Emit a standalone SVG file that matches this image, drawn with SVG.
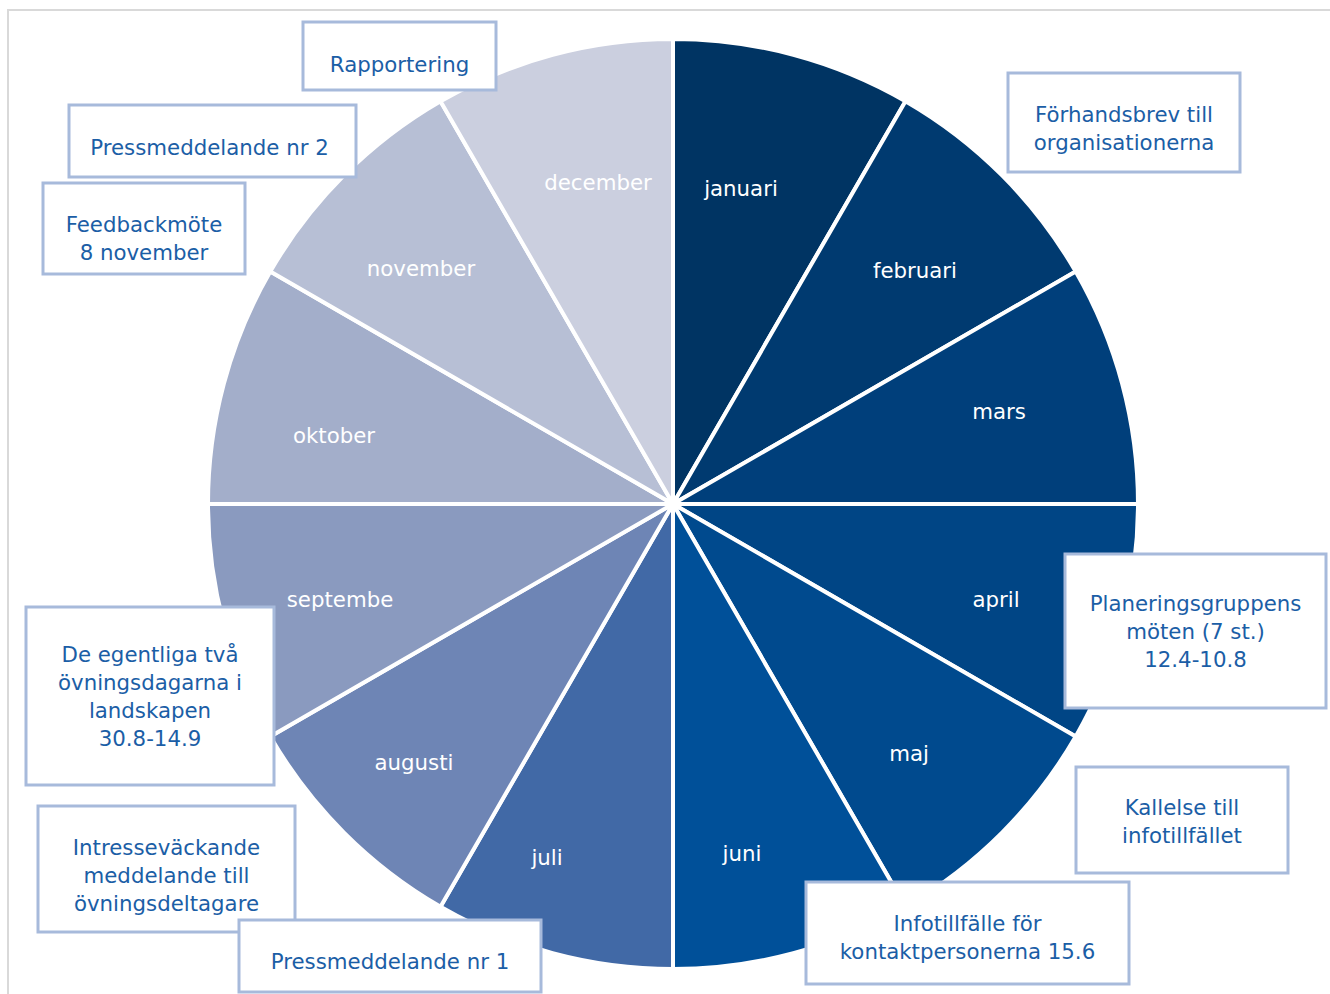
<svg xmlns="http://www.w3.org/2000/svg" width="1330" height="994" viewBox="0 0 1330 994">
<style>
.w{stroke:#fff;stroke-width:4;stroke-linejoin:round}
.m{font-family:"DejaVu Sans",Verdana,sans-serif;font-size:21.3px;fill:#fff;text-anchor:middle}
.b rect{fill:#fff;stroke:#A7BADB;stroke-width:3}
.b text{font-family:"DejaVu Sans",Verdana,sans-serif;font-size:21.3px;fill:#1B5EA6;text-anchor:middle}
</style>
<rect x="0" y="0" width="1330" height="994" fill="#fff"/>
<rect x="8" y="10" width="1340" height="1000" fill="none" stroke="#D9D9D9" stroke-width="2"/>
<g id="pie">
<g id="januari"><path class="w" fill="#003463" d="M673 504 L673 39 A465 465 0 0 1 905.5 101.3 Z"/><text class="m" x="741" y="196">januari</text></g>
<g id="februari"><path class="w" fill="#003A70" d="M673 504 L905.5 101.3 A465 465 0 0 1 1075.7 271.5 Z"/><text class="m" x="915" y="278">februari</text></g>
<g id="mars"><path class="w" fill="#003F7B" d="M673 504 L1075.7 271.5 A465 465 0 0 1 1138 504 Z"/><text class="m" x="999" y="419">mars</text></g>
<g id="april"><path class="w" fill="#004585" d="M673 504 L1138 504 A465 465 0 0 1 1075.7 736.5 Z"/><text class="m" x="996" y="607">april</text></g>
<g id="maj"><path class="w" fill="#004A8E" d="M673 504 L1075.7 736.5 A465 465 0 0 1 905.5 906.7 Z"/><text class="m" x="909" y="761">maj</text></g>
<g id="juni"><path class="w" fill="#005099" d="M673 504 L905.5 906.7 A465 465 0 0 1 673 969 Z"/><text class="m" x="742" y="861">juni</text></g>
<g id="juli"><path class="w" fill="#4169A6" d="M673 504 L673 969 A465 465 0 0 1 440.5 906.7 Z"/><text class="m" x="547" y="865">juli</text></g>
<g id="augusti"><path class="w" fill="#6E85B5" d="M673 504 L440.5 906.7 A465 465 0 0 1 270.3 736.5 Z"/><text class="m" x="414" y="770">augusti</text></g>
<g id="september"><path class="w" fill="#8A9ABF" d="M673 504 L270.3 736.5 A465 465 0 0 1 208 504 Z"/><text class="m" x="340" y="607">septembe</text></g>
<g id="oktober"><path class="w" fill="#A3AECA" d="M673 504 L208 504 A465 465 0 0 1 270.3 271.5 Z"/><text class="m" x="334" y="443">oktober</text></g>
<g id="november"><path class="w" fill="#B7BFD5" d="M673 504 L270.3 271.5 A465 465 0 0 1 440.5 101.3 Z"/><text class="m" x="421" y="276">november</text></g>
<g id="december"><path class="w" fill="#CBCFDF" d="M673 504 L440.5 101.3 A465 465 0 0 1 673 39 Z"/><text class="m" x="598" y="190">december</text></g>
</g>
<g id="connectors"></g>
<g id="rapportering" class="b"><rect x="303" y="22" width="193" height="68"/><text x="399.5" y="72">Rapportering</text></g>
<g id="forhandsbrev" class="b"><rect x="1008" y="73" width="232" height="99"/><text x="1124" y="122">Förhandsbrev till</text><text x="1124" y="150">organisationerna</text></g>
<g id="pressmeddelande2" class="b"><rect x="69" y="105" width="287" height="72"/><text x="209.5" y="155">Pressmeddelande nr 2</text></g>
<g id="feedbackmote" class="b"><rect x="43" y="183" width="202" height="91"/><text x="144" y="232">Feedbackmöte</text><text x="144" y="260">8 november</text></g>
<g id="planeringsgruppens" class="b"><rect x="1065" y="554" width="261" height="154"/><text x="1195.5" y="611">Planeringsgruppens</text><text x="1195.5" y="639">möten (7 st.)</text><text x="1195.5" y="667">12.4-10.8</text></g>
<g id="kallelse" class="b"><rect x="1076" y="767" width="212" height="106"/><text x="1182" y="815">Kallelse till</text><text x="1182" y="843">infotillfället</text></g>
<g id="infotillfalle" class="b"><rect x="806" y="882" width="323" height="102"/><text x="967.5" y="931">Infotillfälle för</text><text x="967.5" y="959">kontaktpersonerna 15.6</text></g>
<g id="egentliga" class="b"><rect x="26" y="607" width="248" height="178"/><text x="150" y="662">De egentliga två</text><text x="150" y="690">övningsdagarna i</text><text x="150" y="718">landskapen</text><text x="150" y="746">30.8-14.9</text></g>
<g id="intressevackande" class="b"><rect x="38" y="806" width="257" height="126"/><text x="166.5" y="855">Intresseväckande</text><text x="166.5" y="883">meddelande till</text><text x="166.5" y="911">övningsdeltagare</text></g>
<g id="pressmeddelande1" class="b"><rect x="239" y="920" width="302" height="72"/><text x="390" y="969">Pressmeddelande nr 1</text></g>
</svg>
